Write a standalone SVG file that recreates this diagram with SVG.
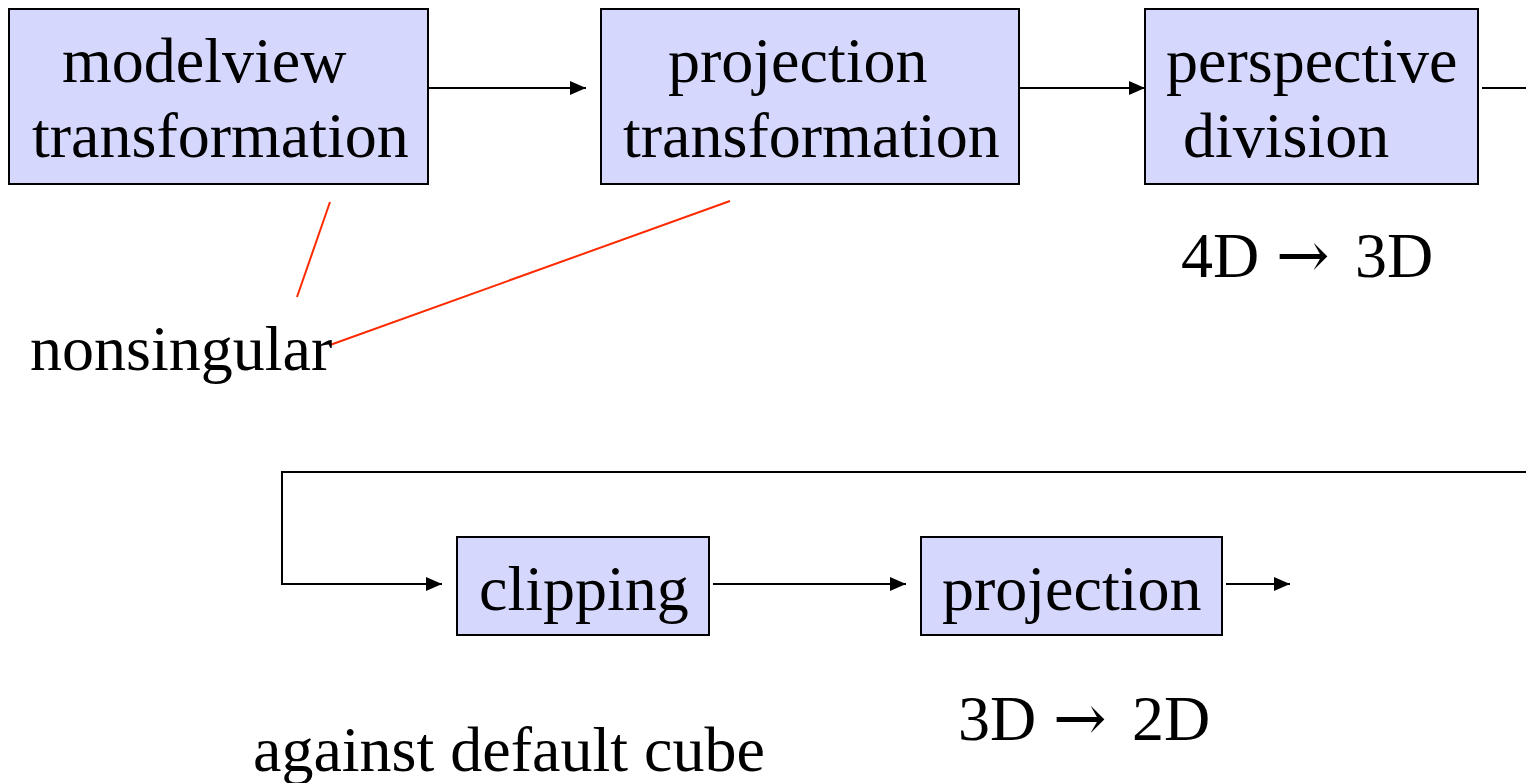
<svg xmlns="http://www.w3.org/2000/svg" width="1526" height="783" viewBox="0 0 1526 783">
<style>
.box{fill:#d6d7fd;stroke:#000;stroke-width:2}
.t{font-family:"Liberation Serif","Times New Roman",serif;font-size:64px;fill:#000}
.ar{font-family:"DejaVu Serif","Liberation Serif",serif;font-size:64px}
.c{fill:none;stroke:#000;stroke-width:2}
.r{fill:none;stroke:#ff2a00;stroke-width:2}
</style>
<defs>
<marker id="ah" viewBox="0 0 16 14" refX="16" refY="7" markerWidth="16" markerHeight="14" markerUnits="userSpaceOnUse" orient="auto">
<path d="M0,0 L16,7 L0,14 Z" fill="#000"/>
</marker>
</defs>
<rect width="1526" height="783" fill="#fff"/>
<g id="connectors">
<line class="c" x1="428" y1="88" x2="586" y2="88" marker-end="url(#ah)"/>
<line class="c" x1="1019" y1="88" x2="1145" y2="88" marker-end="url(#ah)"/>
<line class="c" x1="1482" y1="88" x2="1526" y2="88"/>
<polyline class="c" points="1526,472 282,472 282,584 442,584" marker-end="url(#ah)"/>
<line class="c" x1="713" y1="584" x2="906" y2="584" marker-end="url(#ah)"/>
<line class="c" x1="1226" y1="584" x2="1290" y2="584" marker-end="url(#ah)"/>
<line class="r" x1="330" y1="202" x2="297" y2="297"/>
<line class="r" x1="730" y1="201" x2="330" y2="345"/>
</g>
<g id="modelview">
<rect class="box" x="9" y="9" width="419" height="175"/>
<text class="t" x="62" y="82">modelview</text>
<text class="t" x="32" y="157">transformation</text>
</g>
<g id="projection-transformation">
<rect class="box" x="601" y="9" width="418" height="175"/>
<text class="t" x="668" y="82">projection</text>
<text class="t" x="623" y="157">transformation</text>
</g>
<g id="perspective-division">
<rect class="box" x="1145" y="9" width="333" height="175"/>
<text class="t" x="1166" y="82">perspective</text>
<text class="t" x="1183" y="157">division</text>
</g>
<g id="clipping">
<rect class="box" x="457" y="537" width="252" height="98"/>
<text class="t" x="479" y="610">clipping</text>
</g>
<g id="projection">
<rect class="box" x="921" y="537" width="301" height="98"/>
<text class="t" x="942" y="610">projection</text>
</g>
<g id="labels">
<text class="t" x="1181" y="277">4D <tspan class="ar" x="1276">→</tspan> <tspan x="1355">3D</tspan></text>
<text class="t" x="30" y="370">nonsingular</text>
<text class="t" x="958" y="740">3D <tspan class="ar" x="1053">→</tspan> <tspan x="1132">2D</tspan></text>
<text class="t" x="253" y="771">against default cube</text>
</g>
</svg>
